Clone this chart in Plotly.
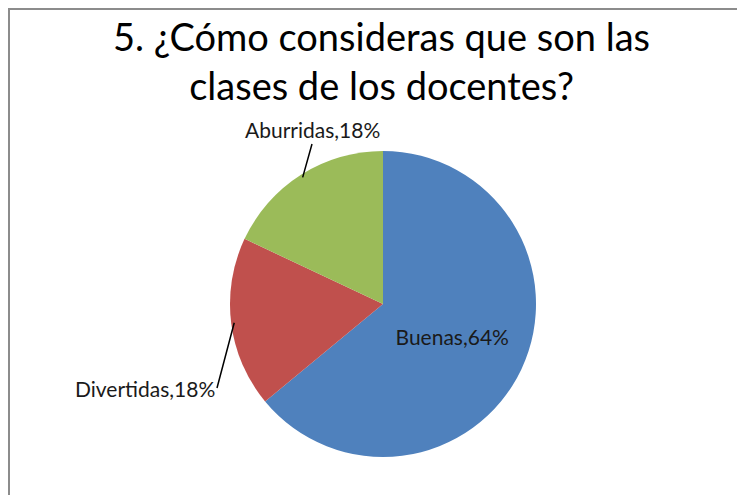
import math
import plotly.graph_objects as go

# data
categories = ["Buenas", "Divertidas", "Aburridas"]
values = [64, 18, 18]
colors = ["#4F81BD", "#C0504D", "#9BBB59"]
title_text = "5. ¿Cómo consideras que son las<br>clases de los docentes?"

W, H = 745, 495
OFF = 8  # page body margin shifts the figure by this much
# pie geometry in pixels (figure coordinates, top-left origin)
cx, cy, r = 383 - OFF, 304 - OFF, 153

labels_text = [f"{c},{v}%" for c, v in zip(categories, values)]
label_font = dict(family="Lato", size=21, color="#1a1a1a")

fig = go.Figure()
fig.add_trace(go.Pie(
    labels=categories, values=values, sort=False, direction="clockwise", rotation=0,
    marker=dict(colors=colors, line=dict(width=0)),
    text=[labels_text[0], "", ""], textinfo="text", textposition="inside",
    insidetextorientation="horizontal",
    textfont=label_font,
    domain=dict(x=[(cx - r) / W, (cx + r) / W], y=[(H - cy - r) / H, (H - cy + r) / H]),
    showlegend=False, hoverinfo="label+percent",
))

# leader-line labels for the small slices
total = sum(values)
cum = 0
tails = {"Divertidas": (217 - OFF, 388 - OFF, "right", "middle"),
         "Aburridas": (312 - OFF, 144 - OFF, "center", "bottom")}
for cat, v, txt in zip(categories, values, labels_text):
    mid = (cum + v / 2) / total * 2 * math.pi
    cum += v
    if cat not in tails:
        continue
    tx = cx + r * 0.98 * math.sin(mid)
    ty = cy - r * 0.98 * math.cos(mid)
    ax, ay, xa, ya = tails[cat]
    fig.add_annotation(
        x=tx / W, y=1 - ty / H, xref="paper", yref="paper",
        ax=ax - tx, ay=ay - ty, showarrow=True, arrowhead=0, arrowwidth=1.5, arrowcolor="#000000",
        text=txt, xanchor=xa, yanchor=ya, font=label_font,
    )

# title
fig.add_annotation(text=title_text, xref="paper", yref="paper", x=(381 - OFF) / W, y=1 - 3 / H,
                   xanchor="center", yanchor="top", showarrow=False, align="center",
                   font=dict(family="Lato", size=38, color="#000000"))

# chart frame
fig.add_shape(type="rect", xref="paper", yref="paper", x0=1 / W, x1=1.05, y0=-0.05, y1=1 - 1 / H,
              line=dict(color="#8c8c8c", width=2))

fig.update_layout(
    width=W, height=H, margin=dict(l=0, r=0, t=0, b=0),
    paper_bgcolor="white", plot_bgcolor="white",
)

fig.write_html("out.html")
